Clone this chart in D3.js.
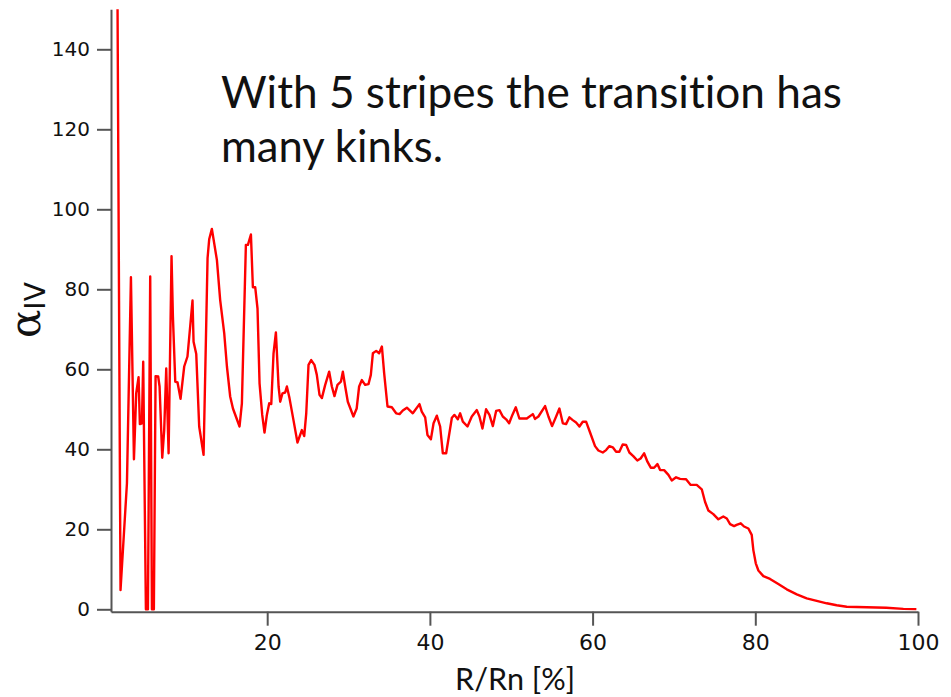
<!DOCTYPE html>
<html>
<head>
<meta charset="utf-8">
<script src="https://cdn.jsdelivr.net/npm/d3@7"></script>
<style>
  body { margin: 0; background: #fff; }
  .axis path, .axis line { stroke: #555; stroke-width: 2px; }
  .axis text { font-family: "DejaVu Sans", sans-serif; fill: #111; }
  text { font-variant-ligatures: none; }
</style>
</head>
<body>
<div id="alpha-chart"></div>
<script>
// R/Rn [%] sample positions
var rRn = [1.6, 1.97, 2.76, 3.25, 3.62, 3.9, 4.19, 4.35, 4.6, 4.76, 5.09, 5.34, 5.62, 5.83, 6.07,
  6.28, 6.6, 6.77, 7.1, 7.34, 7.59, 7.88, 8.24, 8.41, 8.7, 8.98, 9.35, 9.8, 10.2, 10.82,
  10.95, 11.28, 11.64, 12.18, 12.67, 12.87, 13.2, 13.82, 14.22, 14.72, 15.05, 15.45, 15.79, 16.6, 16.89,
  17.38, 17.63, 18.0, 18.24, 18.53, 18.81, 19.06, 19.39, 19.67, 19.96, 20.25, 20.5, 20.78, 21.07, 21.4,
  21.6, 21.88, 22.21, 22.42, 22.74, 23.23, 23.72, 24.26, 24.55, 24.8, 25.08, 25.41, 25.81, 26.1, 26.43,
  26.72, 27.13, 27.62, 27.95, 28.27, 28.64, 29.06, 29.3, 29.59, 29.91, 30.6, 31.0, 31.3, 31.64, 32.04,
  32.45, 32.74, 32.99, 33.4, 33.76, 34.1, 34.38, 34.79, 35.32, 35.85, 36.27, 36.67, 37.17, 37.9, 38.72,
  39.0, 39.42, 39.7, 40.12, 40.45, 40.85, 41.26, 41.59, 42.0, 42.7, 43.02, 43.43, 43.72, 44.05, 44.62,
  45.15, 45.77, 46.09, 46.46, 46.91, 47.32, 47.74, 48.14, 48.55, 48.96, 49.37, 49.74, 50.14, 50.56, 51.0,
  51.91, 52.65, 52.93, 53.34, 54.16, 54.57, 55.02, 55.52, 55.92, 56.34, 56.74, 57.15, 57.56, 57.97, 58.38,
  58.79, 59.2, 59.69, 60.3, 60.71, 61.25, 61.66, 62.07, 62.48, 62.89, 63.29, 63.7, 64.12, 64.52, 65.0,
  65.5, 65.9, 66.33, 66.74, 67.15, 67.56, 67.97, 68.3, 68.79, 69.32, 69.73, 70.26, 70.75, 71.49, 72.06,
  72.8, 73.42, 73.82, 74.23, 74.84, 75.46, 76.07, 76.5, 76.9, 77.39, 77.7, 78.21, 78.62, 79.15, 79.56,
  79.76, 80.06, 80.38, 80.99, 81.81, 82.83, 83.86, 85.1, 86.32, 87.55, 88.78, 90.0, 91.24, 93.7, 96.1,
  98.2, 99.8];

// alpha_IV
var alpha = [152, 4.8, 31.5, 83, 37.5, 54, 58, 46.3, 46.5, 61.9, 0, 0, 83.2, 0, 0,
  58.3, 58.2, 55.7, 37.9, 44.8, 60.2, 39, 88.3, 73.2, 56.9, 56.7, 52.6, 60.7, 63.2, 77.2,
  66.9, 63.8, 45.7, 38.6, 87.8, 92.5, 95.1, 87.3, 77.3, 69, 60.7, 53.2, 50.2, 45.7, 51.5,
  91.1, 91.1, 93.7, 80.5, 80.5, 75.2, 56.5, 48.6, 44.2, 48.6, 51.5, 51.3, 64, 69.2, 55.7,
  51.9, 54, 54.2, 55.7, 52.8, 47.3, 41.7, 44.8, 43.3, 49, 61.1, 62.3, 61.1, 58.6, 53.6,
  52.8, 56.1, 59.4, 55.7, 53.3, 56.1, 56.9, 59.4, 55.7, 51.9, 48.2, 50.2, 55.7, 57.3, 56.1,
  56.3, 58.6, 64, 64.6, 64, 65.7, 59, 50.7, 50.5, 49, 48.8, 49.7, 50.4, 49, 51.3,
  49.4, 48, 43.6, 42.5, 46.5, 48.4, 45.7, 39, 39, 47.9, 48.6, 47.5, 49, 46.9, 45.7,
  48.2, 49.8, 48.2, 45.2, 50, 48.6, 45.8, 49.6, 49.8, 48.2, 47.5, 46.5, 48.6, 50.5, 47.7,
  47.7, 48.8, 47.6, 48.2, 50.8, 48.2, 45.8, 48.2, 50.2, 46.5, 46.3, 48, 47.3, 46.7, 45.7,
  46.9, 46.9, 44.2, 40.8, 39.7, 39.2, 39.8, 40.8, 40.5, 39.4, 39.4, 41.2, 41.1, 39.2, 38.3,
  37.2, 37.7, 39, 36.9, 35.4, 35.4, 36.3, 34.8, 34.8, 33.6, 32.2, 33, 32.6, 32.5, 31.1,
  31.1, 30, 26.9, 24.7, 23.8, 22.5, 23.2, 22.7, 21.3, 20.8, 21.1, 21.5, 20.7, 20.2, 18.6,
  14.8, 11.5, 9.7, 8.3, 7.6, 6.3, 5, 3.75, 2.75, 2.1, 1.5, 1.0, 0.65, 0.5, 0.4,
  0.1, 0.05];

var xTicks = [20, 40, 60, 80, 100];
var yTicks = [0, 20, 40, 60, 80, 100, 120, 140];
var noteLines = ["With 5 stripes the transition has", "many kinks."];

var chartW = 951, chartH = 697;
var plotL = 111, plotR = 918, plotT = 9.3, plotB = 611.7;

var svg = d3.select("#alpha-chart").append("svg")
  .attr("width", chartW)
  .attr("height", chartH);

var x = d3.scaleLinear().domain([0.8, 100]).range([plotL, plotR]);
var y = d3.scaleLinear().domain([-0.6, 150]).range([plotB, plotT]);

svg.append("defs").append("clipPath")
  .attr("id", "plot-clip")
  .append("rect")
  .attr("x", plotL).attr("y", plotT)
  .attr("width", plotR - plotL).attr("height", plotB - plotT);

var pts = rRn.map(function(d, i) { return [d, alpha[i]]; });

var line = d3.line()
  .x(function(d) { return x(d[0]); })
  .y(function(d) { return y(d[1]); });

svg.append("path")
  .datum(pts)
  .attr("clip-path", "url(#plot-clip)")
  .attr("fill", "none")
  .attr("stroke", "#ff0000")
  .attr("stroke-width", 2.4)
  .attr("stroke-linejoin", "round")
  .attr("d", line);

var xAxis = svg.append("g")
  .attr("class", "axis x-axis")
  .attr("transform", "translate(0," + plotB + ")")
  .call(d3.axisBottom(x).tickValues(xTicks).tickSizeInner(14).tickSizeOuter(0).tickPadding(9));
xAxis.selectAll("text").style("font-size", "22px");

var yAxis = svg.append("g")
  .attr("class", "axis y-axis")
  .attr("transform", "translate(" + plotL + ",0)")
  .call(d3.axisLeft(y).tickValues(yTicks).tickSizeInner(14).tickSizeOuter(0).tickPadding(7));
yAxis.selectAll("text").style("font-size", "20px");

// axis titles
svg.append("text")
  .attr("x", 515)
  .attr("y", 690)
  .attr("text-anchor", "middle")
  .attr("textLength", 120)
  .attr("lengthAdjust", "spacingAndGlyphs")
  .style("font-family", "Lato, 'Open Sans', sans-serif")
  .style("font-size", "30px")
  .style("fill", "#111")
  .text("R/Rn [%]");

var yTitle = svg.append("text")
  .attr("transform", "translate(40,338) rotate(-90)")
  .style("font-family", "'DejaVu Serif', serif")
  .style("fill", "#111");
yTitle.append("tspan").style("font-size", "42px").text("α");
yTitle.append("tspan").attr("dy", 5).style("font-family", "'DejaVu Sans', sans-serif").style("font-size", "28px").text("IV");

// annotation
svg.selectAll(".note")
  .data(noteLines)
  .enter().append("text")
  .attr("class", "note")
  .attr("x", 221)
  .attr("y", function(d, i) { return 108 + i * 54; })
  .attr("textLength", function(d, i) { return i === 0 ? 621 : 222; })
  .attr("lengthAdjust", "spacingAndGlyphs")
  .style("font-family", "Lato, 'Open Sans', sans-serif")
  .style("font-size", "44px")
  .style("fill", "#111")
  .text(function(d) { return d; });
</script>
</body>
</html>
